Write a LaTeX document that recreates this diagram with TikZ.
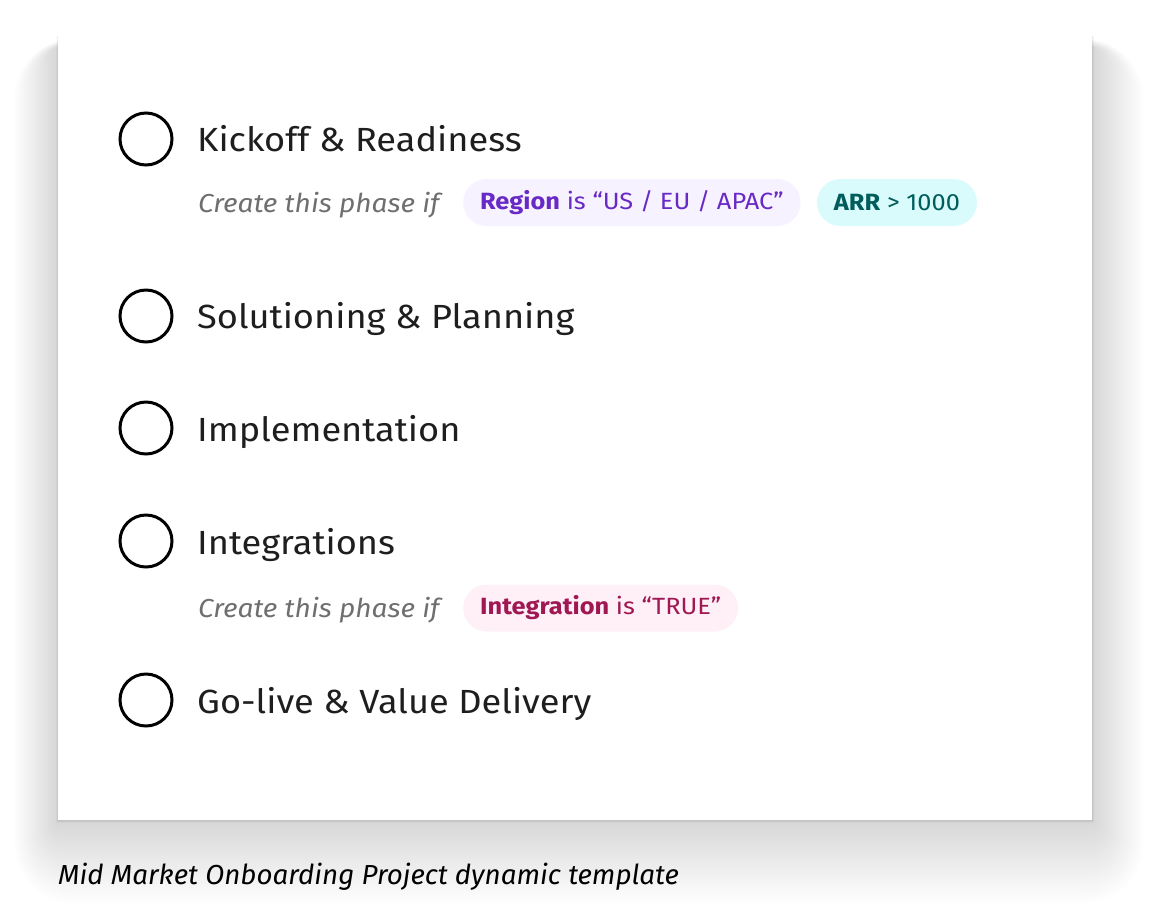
\documentclass[tikz,border=0pt]{standalone}
\usepackage{fontspec}
\setmainfont{Fira Sans}[FakeStretch=1.08]
\newfontfamily\capfont{Fira Sans}[FakeStretch=1.01]
\usetikzlibrary{calc}
\definecolor{titlec}{HTML}{1E1E1E}
\definecolor{grayc}{HTML}{6F6F6F}
\definecolor{purpf}{HTML}{F6F2FF}
\definecolor{purpt}{HTML}{6929C4}
\definecolor{tealf}{HTML}{D9FBFB}
\definecolor{tealt}{HTML}{005D5D}
\definecolor{magf}{HTML}{FFF0F7}
\definecolor{magt}{HTML}{9F1853}
\tikzset{
  x=1pt,y=-1pt,
  phase/.style={circle,draw=black,line width=3pt,minimum size=52pt,inner sep=0pt},
  title/.style={anchor=base west,inner sep=0pt,text=titlec,font=\fontsize{33.5}{38}\selectfont},
  cond/.style={anchor=base west,inner sep=0pt,text=grayc,font=\itshape\fontsize{26}{30}\selectfont},
  pill/.style={anchor=west,rounded corners=23.5pt,minimum height=47pt,inner xsep=17pt,inner ysep=0pt,font=\fontsize{23.5}{26}\selectfont},
}
\begin{document}
\begin{tikzpicture}
\useasboundingbox (0,0) rectangle (1150,903);
\fill[white] (0,0) rectangle (1150,903);
% soft shadow
\foreach \i in {1,...,40}{
  \fill[black,opacity=0.0033,rounded corners=1.5*\i pt] ($(58,33)+(-\i*1.1,-\i*0.2+14)$) rectangle ($(1092,820)+(\i*1.3,\i*2.1)$);
}
\foreach \i in {1,...,4}{
  \fill[black,opacity=0.02] ($(58,33)+(-\i*0.5,3)$) rectangle ($(1092,820)+(\i*0.5,\i*0.8)$);
}
\node[fill=white,draw=none,inner sep=0pt,minimum width=1034pt,minimum height=787pt,anchor=north west] (card) at (58,33) {};
% phases
\node[phase] (c1) at (146,139) {};
\node[phase] (c2) at (146,316) {};
\node[phase] (c3) at (146,428) {};
\node[phase] (c4) at (146,541) {};
\node[phase] (c5) at (146,700) {};
\node[title] (t1) at (197,151) {Kickoff \& Readiness};
\node[title] (t2) at (197,328) {Solutioning \& Planning};
\node[title] (t3) at (197,441) {Implementation};
\node[title] (t4) at (197,554) {Integrations};
\node[title] (t5) at (197,713) {Go-live \& Value Delivery};
% conditions
\node[cond] (k1) at (198,212) {Create this phase if};
\node[pill,fill=purpf,text=purpt] (p1) at (463,202.5) {\textbf{Region} is “US / EU / APAC”};
\node[pill,fill=tealf,text=tealt] (p2) at ($(p1.east)+(16,0)$) {\textbf{ARR} > 1000};
\node[cond] (k2) at (198,617) {Create this phase if};
\node[pill,fill=magf,text=magt] (p3) at (463,608) {\textbf{Integration} is “TRUE”};
% caption
\node[anchor=base west,inner sep=0pt,text=black,font=\capfont\itshape\fontsize{27.5}{32}\selectfont] (cap) at (58,884) {Mid Market Onboarding Project dynamic template};
\end{tikzpicture}
\end{document}
